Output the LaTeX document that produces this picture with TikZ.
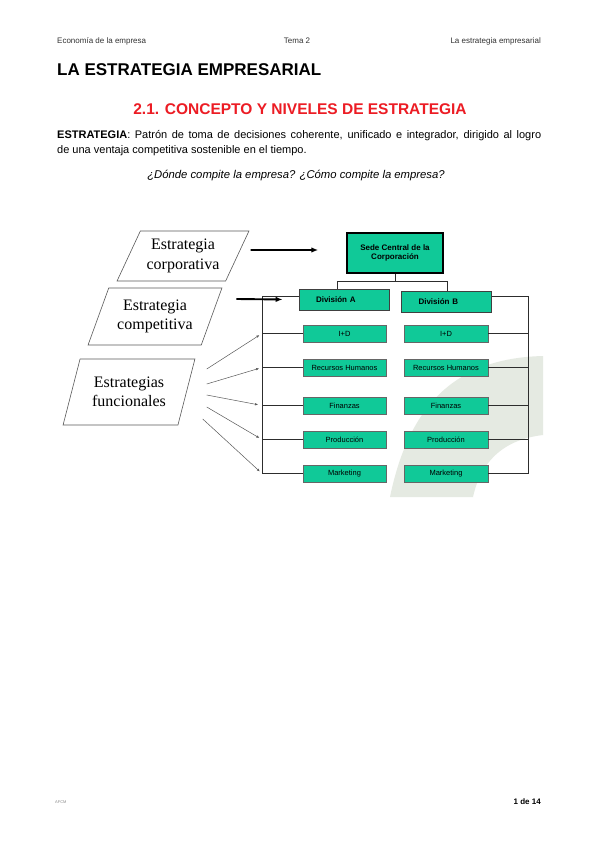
\documentclass[tikz,border=0pt]{standalone}
\usepackage{fontspec}
\setmainfont{Liberation Sans}
\newfontfamily\timesfont{Liberation Serif}
\usepackage{tikz}
\usetikzlibrary{arrows.meta,positioning,shapes.geometric}
\definecolor{boxgreen}{RGB}{16,201,152}
\definecolor{swoosh}{RGB}{229,234,226}
\definecolor{titlered}{RGB}{236,28,36}
\definecolor{linegray}{RGB}{45,45,45}

\begin{document}
\begin{tikzpicture}[
  x=1pt, y=-1pt,
  hdr/.style={inner sep=0pt, text=black!80, font=\fontsize{8}{9}\selectfont},
  para/.style={trapezium, trapezium stretches=true, draw=black!65, line width=.6pt, align=center, inner sep=2pt, font=\timesfont\fontsize{16}{19.5}\selectfont},
  sedebox/.style={draw=black, line width=1.5pt, fill=boxgreen, minimum width=96pt, minimum height=40pt, inner sep=0pt, align=center, font=\bfseries\fontsize{8}{9.5}\selectfont},
  divbox/.style={draw=black!75, line width=.8pt, fill=boxgreen, minimum width=90pt, minimum height=21pt, text width=56pt, inner xsep=17pt, inner ysep=0pt, align=left, font=\bfseries\fontsize{8}{9}\selectfont},
  funcbox/.style={draw=black!60, line width=.7pt, fill=boxgreen, minimum width=83pt, minimum height=17pt, inner sep=0pt, font=\fontsize{7.5}{8.5}\selectfont},
  link/.style={draw=linegray, line width=.9pt},
  bigarr/.style={-{Latex[length=7pt,width=5.5pt]}, line width=1.9pt, draw=black},
  thinarr/.style={-{Latex[length=3pt,width=2.5pt]}, line width=.5pt, draw=black!65}
]
\useasboundingbox (0,0) rectangle (599,848);
\fill[white] (0,0) rectangle (599,848);
% watermark behind the chart
\fill[swoosh] (390,497) .. controls (410,400) and (460,358) .. (543,356) -- (543,435) .. controls (500,440) and (480,465) .. (473,497) -- cycle;

% page head
\node[hdr, anchor=base west] (hdrl) at (57,44) {Economía de la empresa};
\node[hdr, anchor=base] (hdrc) at (297,44) {Tema 2};
\node[hdr, anchor=base east] (hdrr) at (541,44) {La estrategia empresarial};
\node[anchor=base west, inner sep=0pt, font=\bfseries\fontsize{17}{20}\selectfont] (title) at (57,76) {LA ESTRATEGIA EMPRESARIAL};
\node[anchor=base, inner sep=0pt, text=titlered, font=\bfseries\fontsize{15.5}{18}\selectfont] (sect) at (300,114) {2.1. CONCEPTO Y NIVELES DE ESTRATEGIA};
\node[anchor=base west, inner sep=0pt, text width=484pt, align=justify, font=\fontsize{11}{14.5}\selectfont] (defn) at (57,139) {\textbf{ESTRATEGIA}: Patrón de toma de decisiones coherente, unificado e integrador, dirigido al logro\linebreak de una ventaja competitiva sostenible en el tiempo.};
\node[anchor=base, inner sep=0pt, font=\itshape\fontsize{11.3}{13}\selectfont] (quest) at (296,178) {¿Dónde compite la empresa? ¿Cómo compite la empresa?};

% levels
\node[para, trapezium left angle=60.75, trapezium right angle=119.25, minimum width=132pt, minimum height=50pt] (corp) at (183,256) {Estrategia\\corporativa};
\node[para, trapezium left angle=64.65, trapezium right angle=115.35, minimum width=134pt, minimum height=57pt] (comp) at (155,316.5) {Estrategia\\competitiva};
\node[para, trapezium left angle=68.5, trapezium right angle=111.5, minimum width=132pt, minimum height=66pt] (func) at (129,392) {Estrategias\\funcionales};

% chart
\node[sedebox] (sede) at (395,253) {Sede Central de la\\Corporación};
\node[divbox] (divA) at (344,299.5) {División A};
\node[divbox, minimum width=89pt] (divB) at (446.5,301.5) {División B};
\node[funcbox] (lid) at (344.5,333.5) {I+D};
\node[funcbox] (lrh) at (344.5,367.5) {Recursos Humanos};
\node[funcbox] (lfin) at (344.5,405.5) {Finanzas};
\node[funcbox] (lprod) at (344.5,439.5) {Producción};
\node[funcbox] (lmkt) at (344.5,473.5) {Marketing};
\node[funcbox, minimum width=84pt] (rid) at (446,333.5) {I+D};
\node[funcbox, minimum width=84pt] (rrh) at (446,367.5) {Recursos Humanos};
\node[funcbox, minimum width=84pt] (rfin) at (446,405.5) {Finanzas};
\node[funcbox, minimum width=84pt] (rprod) at (446,439.5) {Producción};
\node[funcbox, minimum width=84pt] (rmkt) at (446,473.5) {Marketing};

\draw[link] (sede.south) -- ++(0,8) coordinate (fork);
\draw[link] ([xshift=-7pt]divA.north) |- (fork) -| ([xshift=.5pt]divB.north);
\coordinate (lbus) at (262,296);
\coordinate (rbus) at (528.5,296);
\draw[link] ([yshift=3.5pt]divA.west) -- (lbus) |- (lmkt.west);
\draw[link] (lid.west) -- (lid.west -| lbus);
\draw[link] (lrh.west) -- (lrh.west -| lbus);
\draw[link] (lfin.west) -- (lfin.west -| lbus);
\draw[link] (lprod.west) -- (lprod.west -| lbus);
\draw[link] ([yshift=5.5pt]divB.east) -- (rbus) |- (rmkt.east);
\draw[link] (rid.east) -- (rid.east -| rbus);
\draw[link] (rrh.east) -- (rrh.east -| rbus);
\draw[link] (rfin.east) -- (rfin.east -| rbus);
\draw[link] (rprod.east) -- (rprod.east -| rbus);

\draw[bigarr] ([xshift=13pt,yshift=6pt]corp.east) -- ([xshift=-28pt,yshift=3pt]sede.west);
\draw[bigarr] ([xshift=24.5pt,yshift=17.5pt]comp.east) -- ([xshift=-16pt]divA.west);
\draw[thinarr, shorten >=3pt] ([xshift=20pt,yshift=23pt]func.east) -- (lid.west -| lbus);
\draw[thinarr, shorten >=3pt] ([xshift=20pt,yshift=8pt]func.east) -- (lrh.west -| lbus);
\draw[thinarr, shorten >=4pt] ([xshift=20pt,yshift=-3pt]func.east) -- (lfin.west -| lbus);
\draw[thinarr, shorten >=3pt] ([xshift=20pt,yshift=-15pt]func.east) -- (lprod.west -| lbus);
\draw[thinarr, shorten >=3pt] ([xshift=16pt,yshift=-27pt]func.east) -- (lmkt.west -| lbus);

% page foot
\node[anchor=base west, inner sep=0pt, text=black!45, font=\fontsize{4}{5}\selectfont] (mark) at (55,803) {AFCM};
\node[anchor=base east, inner sep=0pt, font=\bfseries\fontsize{8}{9}\selectfont] (pgno) at (541,804) {1 de 14};
\end{tikzpicture}
\end{document}
